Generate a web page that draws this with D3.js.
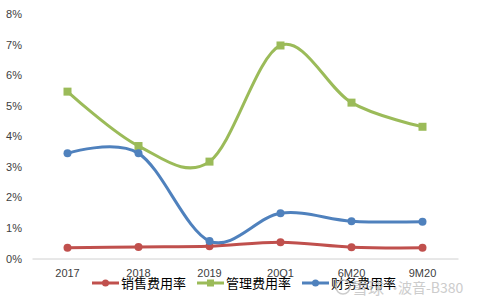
<!DOCTYPE html>
<html>
<head>
<meta charset="utf-8">
<script src="https://cdn.jsdelivr.net/npm/d3@7"></script>
<style>
body { margin: 0; background: #fff; }
svg { display: block; font-family: "Liberation Sans", "Noto Sans CJK SC", sans-serif; }
</style>
</head>
<body>
<script>
// data (percent)
var categories = ["2017", "2018", "2019", "20Q1", "6M20", "9M20"]
var sales   = [0.35, 0.38, 0.40, 0.53, 0.37, 0.35]   // 销售费用率
var admin   = [5.46, 3.68, 3.17, 6.97, 5.10, 4.31]   // 管理费用率
var finance = [3.44, 3.44, 0.57, 1.48, 1.22, 1.20]   // 财务费用率
var yTicks  = [0, 1, 2, 3, 4, 5, 6, 7, 8]

var series = [
	{ name: "销售费用率", values: sales,   color: "#C0504D", marker: "circle", lx: 92 },
	{ name: "管理费用率", values: admin,   color: "#9BBB59", marker: "square", lx: 197 },
	{ name: "财务费用率", values: finance, color: "#4F81BD", marker: "circle", lx: 302 }
]

var W = 480, H = 302
var svg = d3.select("body").append("svg").attr("width", W).attr("height", H)

var x = d3.scaleBand().domain(categories).range([32, 458])
var y = d3.scaleLinear().domain([0, 8]).range([258.5, 14])
var cx = function (d) { return x(d) + x.bandwidth() / 2 }

// y axis labels
var yAxis = d3.axisLeft(y).tickValues(yTicks).tickSize(0).tickPadding(0)
	.tickFormat(function (d) { return d + "%" })
var gy = svg.append("g").attr("transform", "translate(22,0)").call(yAxis)
gy.select(".domain").remove()
gy.selectAll("text").attr("font-size", 11).attr("fill", "#404040")

// baseline + category labels
var xAxis = d3.axisBottom(x).tickSize(0).tickPadding(0)
var gx = svg.append("g").attr("transform", "translate(0," + y(0) + ")").call(xAxis)
gx.select(".domain").attr("stroke", "#d0d0d0").attr("stroke-width", 1)
gx.selectAll("text").attr("font-size", 11).attr("fill", "#404040").attr("dy", 0).attr("y", 18)

var line = d3.line()
	.x(function (d, i) { return cx(categories[i]) })
	.y(function (d) { return y(d) })
	.curve(d3.curveCardinal.tension(0))

function drawMarker(g, type, color, px, py, small) {
	if (type == "square") {
		var s = small ? 7 : 8
		g.append("rect").attr("x", px - s / 2).attr("y", py - s / 2)
			.attr("width", s).attr("height", s).attr("fill", color)
	} else {
		g.append("circle").attr("cx", px).attr("cy", py).attr("r", small ? 3.5 : 4)
			.attr("fill", color)
	}
}

series.forEach(function (s) {
	var g = svg.append("g")
	g.append("path").datum(s.values).attr("d", line)
		.attr("fill", "none").attr("stroke", s.color).attr("stroke-width", 3)
	s.values.forEach(function (v, i) {
		drawMarker(g, s.marker, s.color, cx(categories[i]), y(v))
	})
})

// legend
var ly = 283
series.forEach(function (s) {
	var g = svg.append("g")
	g.append("line").attr("x1", s.lx).attr("x2", s.lx + 27).attr("y1", ly).attr("y2", ly)
		.attr("stroke", s.color).attr("stroke-width", 3)
	drawMarker(g, s.marker, s.color, s.lx + 13.5, ly, true)
	g.append("text").attr("x", s.lx + 29).attr("y", ly + 5)
		.attr("font-size", 13).attr("fill", "#000")
		.attr("font-family", "'Noto Sans CJK SC', sans-serif")
		.text(s.name)
})

// watermark
var wm = svg.append("g").attr("fill", "#c4c4c4").attr("opacity", 0.85)
wm.append("circle").attr("cx", 343).attr("cy", 287).attr("r", 7)
	.attr("fill", "none").attr("stroke", "#c4c4c4").attr("stroke-width", 1.5)
wm.append("text").attr("x", 352).attr("y", 294).attr("font-size", 16)
	.attr("font-family", "'Noto Sans CJK SC', sans-serif").text("雪球")
wm.append("text").attr("x", 388).attr("y", 293).attr("font-size", 14)
	.attr("font-family", "'Noto Sans CJK SC', sans-serif").text("·")
wm.append("text").attr("x", 398).attr("y", 293).attr("font-size", 14)
	.attr("font-family", "'Noto Sans CJK SC', sans-serif").text("波音-B380")
</script>
</body>
</html>
